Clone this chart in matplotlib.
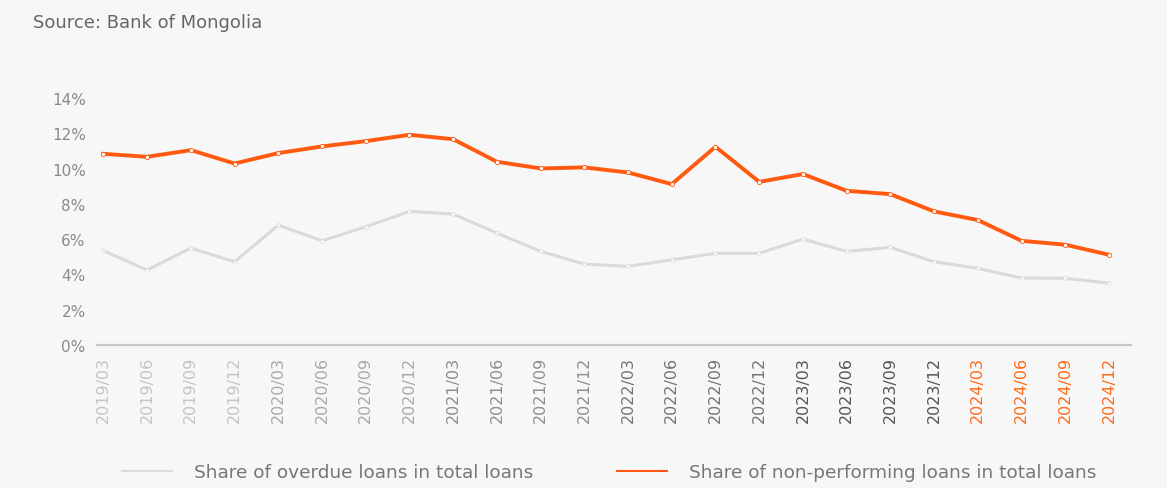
import numpy as np
from matplotlib import pyplot as plt

# quarters shown on the x axis
quarters = ['2019/03', '2019/06', '2019/09', '2019/12',
            '2020/03', '2020/06', '2020/09', '2020/12',
            '2021/03', '2021/06', '2021/09', '2021/12',
            '2022/03', '2022/06', '2022/09', '2022/12',
            '2023/03', '2023/06', '2023/09', '2023/12',
            '2024/03', '2024/06', '2024/09', '2024/12']

# share of overdue loans in total loans, %
overdue = [5.34, 4.24, 5.49, 4.71, 6.79, 5.90, 6.70, 7.57,
           7.42, 6.34, 5.30, 4.58, 4.45, 4.82, 5.19, 5.19,
           6.00, 5.30, 5.53, 4.71, 4.34, 3.79, 3.77, 3.50]

# share of non-performing loans in total loans, %
npl = [10.84, 10.67, 11.05, 10.29, 10.88, 11.26, 11.56, 11.92,
       11.67, 10.39, 10.01, 10.07, 9.78, 9.12, 11.24, 9.25,
       9.69, 8.74, 8.55, 7.57, 7.08, 5.90, 5.68, 5.11]

yticks = [0, 2, 4, 6, 8, 10, 12, 14]

BG = '#f7f7f7'
ORANGE = '#ff5a0f'
LGRAY = '#dadada'
year_color = {'2019': '#c4c4c4', '2020': '#a9a9a9', '2021': '#8e8e8e',
              '2022': '#747474', '2023': '#555555', '2024': '#ff6a1a'}

plt.rcParams['font.family'] = ['DejaVu Sans']

fig = plt.figure(figsize=(11.67, 4.89), dpi=100, facecolor=BG)
ax = fig.add_axes([0.083, 0.293, 0.886, 0.515], facecolor=BG)

x = np.arange(len(quarters))
ax.plot(x, overdue, color=LGRAY, lw=2.2, marker='o', ms=2.5,
        mfc='white', mec=LGRAY, mew=0.5, solid_joinstyle='round',
        label='Share of overdue loans in total loans')
ax.plot(x, npl, color=ORANGE, lw=2.8, marker='o', ms=3,
        mfc='white', mec=ORANGE, mew=0.6, solid_joinstyle='round',
        label='Share of non-performing loans in total loans')

ax.set_xlim(-0.15, 23.5)
ax.set_ylim(0, 14.3)
ax.set_yticks(yticks)
ax.set_yticklabels(['{}%'.format(v) for v in yticks], fontsize=11, color='#8a8a8a')
ax.set_xticks(x)
ax.set_xticklabels(quarters, rotation=90, fontsize=11.5)
for lab, q in zip(ax.get_xticklabels(), quarters):
    lab.set_color(year_color[q[:4]])
ax.tick_params(length=0, pad=8)

for s in ['top', 'right', 'left']:
    ax.spines[s].set_visible(False)
ax.spines['bottom'].set_color('#c8c8c8')
ax.spines['bottom'].set_linewidth(1.6)

fig.text(0.028, 0.953, 'Source: Bank of Mongolia', fontsize=13, color='#666666',
         va='center', ha='left')

leg = fig.legend(loc='lower center', bbox_to_anchor=(0.522, -0.02), ncol=2,
                 frameon=False, fontsize=13.3, handlelength=2.7,
                 columnspacing=4.5, handletextpad=1.2)
for t in leg.get_texts():
    t.set_color('#777777')
for h in leg.legend_handles:
    h.set_marker('')
    h.set_linewidth(1.5)

fig.savefig('out.png', dpi=100, facecolor=BG)
